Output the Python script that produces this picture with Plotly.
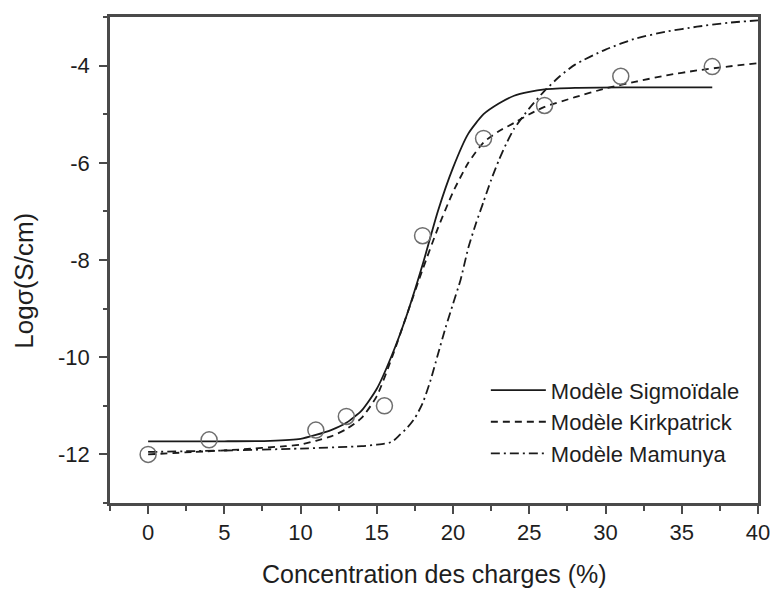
import plotly.graph_objects as go

# Experimental data
data_x = [0, 4, 11, 13, 15.5, 18, 22, 26, 31, 37]
data_y = [-12.0, -11.7, -11.5, -11.22, -11.0, -7.5, -5.5, -4.82, -4.22, -4.02]

# Modèle Sigmoïdale
sig_x = [0, 5, 8, 10, 11, 12, 13, 14, 15, 16, 17, 18, 19, 20, 21, 22, 23, 24, 25, 26, 28, 31, 34, 37]
sig_y = [-11.73, -11.73, -11.72, -11.68, -11.6, -11.5, -11.35, -11.1, -10.65, -9.95, -9.1, -8.1,
         -7.0, -6.1, -5.4, -5.0, -4.78, -4.62, -4.54, -4.49, -4.46, -4.45, -4.45, -4.45]

# Modèle Kirkpatrick
kirk_x = [0, 3, 6, 9, 10, 11, 12, 13, 14, 15, 16, 17, 18, 19, 20, 21, 22, 23, 24, 25, 26,
          28, 30, 32, 34, 36, 38, 40]
kirk_y = [-12.0, -11.95, -11.9, -11.83, -11.8, -11.72, -11.63, -11.48, -11.25, -10.8, -10.0,
          -9.1, -8.2, -7.35, -6.6, -6.0, -5.58, -5.35, -5.18, -5.0, -4.85, -4.65, -4.47, -4.33,
          -4.2, -4.1, -4.02, -3.95]

# Modèle Mamunya
mam_x = [0, 5, 10, 14, 15, 15.5, 16, 16.5, 17, 17.5, 18, 18.5, 19, 19.5, 20, 20.5, 21, 21.5,
         22, 22.5, 23, 23.5, 24, 25, 26, 27, 28, 30, 32, 34, 36, 38, 40]
mam_y = [-11.95, -11.92, -11.88, -11.83, -11.8, -11.78, -11.74, -11.6, -11.45, -11.25, -10.95,
         -10.5, -9.95, -9.4, -8.9, -8.4, -7.75, -7.25, -6.8, -6.35, -5.95, -5.6, -5.3, -4.88,
         -4.52, -4.22, -3.98, -3.67, -3.44, -3.3, -3.2, -3.12, -3.07]

x_ticks = [0, 5, 10, 15, 20, 25, 30, 35, 40]
x_labels = ["0", "5", "10", "15", "20", "25", "30", "35", "40"]
y_ticks = [-12, -10, -8, -6, -4]
y_labels = ["-12", "-10", "-8", "-6", "-4"]

FONT = "Arial, 'Liberation Sans', sans-serif"
TXT = "#1e1e1e"
AX = "#4a4a4a"

fig = go.Figure()
fig.add_trace(go.Scatter(x=sig_x, y=sig_y, mode="lines", name="Modèle Sigmoïdale",
                         line=dict(color="#1a1a1a", width=1.8, shape="spline", smoothing=0.6)))
fig.add_trace(go.Scatter(x=kirk_x, y=kirk_y, mode="lines", name="Modèle Kirkpatrick",
                         line=dict(color="#1a1a1a", width=1.8, dash="7px,5px", shape="spline", smoothing=0.6)))
fig.add_trace(go.Scatter(x=mam_x, y=mam_y, mode="lines", name="Modèle Mamunya",
                         line=dict(color="#1a1a1a", width=1.8, dash="9px,4px,2px,4px", shape="spline", smoothing=0.6)))
fig.add_trace(go.Scatter(x=data_x, y=data_y, mode="markers", name="data", showlegend=False,
                         marker=dict(symbol="circle-open", size=16, color="#6e6e6e",
                                     line=dict(width=1.5, color="#6e6e6e"))))

axis_common = dict(showgrid=False, zeroline=False, showline=True, linecolor=AX,
                   linewidth=2.5, mirror=True, ticks="outside", ticklen=8, tickwidth=2,
                   tickcolor=AX, tickfont=dict(family=FONT, size=22, color=TXT), automargin=False)

fig.update_xaxes(range=[-2.5, 40], tickvals=x_ticks, ticktext=x_labels,
                 minor=dict(ticks="outside", ticklen=5, tickwidth=2, tickcolor=AX, dtick=2.5, tick0=-2.5),
                 **axis_common)
fig.update_yaxes(range=[-13, -3], tickvals=y_ticks, ticktext=y_labels, ticklabelstandoff=5,
                 minor=dict(ticks="outside", ticklen=4, tickwidth=2, tickcolor=AX, dtick=1, tick0=-13),
                 **axis_common)

fig.add_annotation(text="Concentration des charges (%)", xref="paper", yref="paper",
                   x=0.5, y=-0.146, xanchor="center", yanchor="middle", showarrow=False,
                   font=dict(family=FONT, size=25, color=TXT))
fig.add_annotation(text="Logσ(S/cm)", textangle=-90, xref="paper", yref="paper",
                   x=-0.133, y=0.457, xanchor="center", yanchor="middle", showarrow=False,
                   font=dict(family=FONT, size=26, color=TXT))

fig.update_layout(
    width=775, height=590,
    margin=dict(l=110, r=17, t=17, b=87),
    paper_bgcolor="white", plot_bgcolor="white",
    font=dict(family=FONT, size=22, color=TXT),
    showlegend=True,
    legend=dict(x=0.58, y=0.275, xanchor="left", yanchor="top", bgcolor="rgba(0,0,0,0)",
                font=dict(family=FONT, size=22, color=TXT), itemwidth=55,
                tracegroupgap=0),
)

fig.write_html("out.html")
